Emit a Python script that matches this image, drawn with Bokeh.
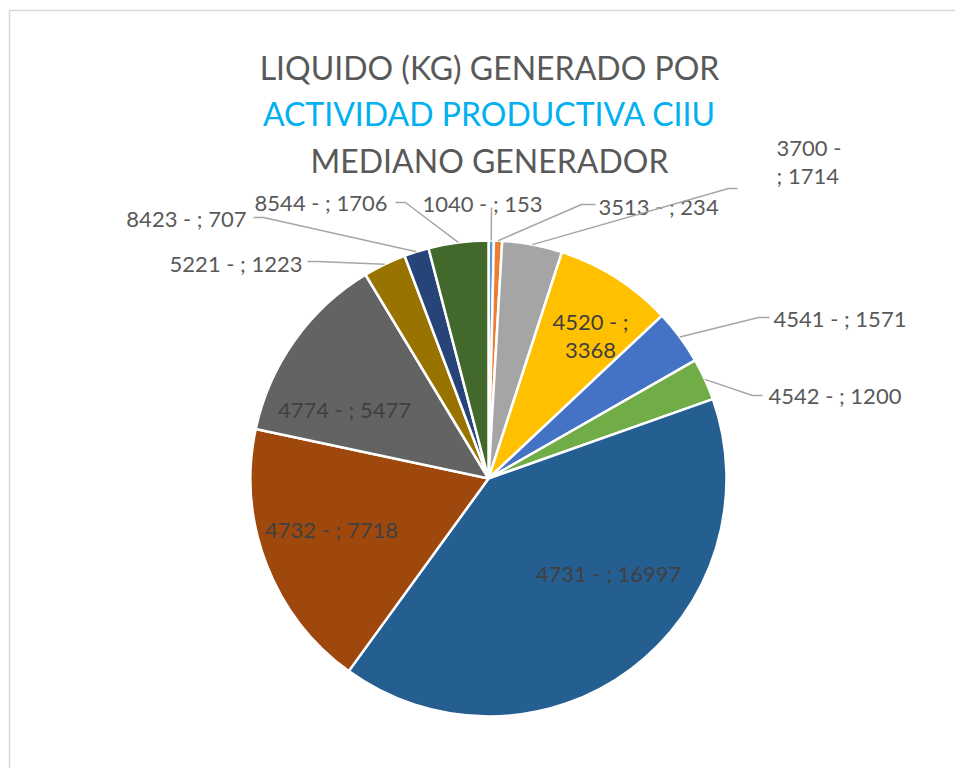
import math
from bokeh.plotting import figure
from bokeh.models import Range1d
from bokeh.core.properties import value
from bokeh.embed import file_html
from bokeh.resources import INLINE

# ---------------- data ----------------
codes = ["1040", "3513", "3700", "4520", "4541", "4542",
         "4731", "4732", "4774", "5221", "8423", "8544"]
kg = [153, 234, 1714, 3368, 1571, 1200, 16997, 7718, 5477, 1223, 707, 1706]
title_lines = ["LIQUIDO (KG) GENERADO POR",
               "ACTIVIDAD PRODUCTIVA CIIU",
               "MEDIANO GENERADOR"]

# ---------------- styles / layout ----------------
colors = ["#5B9BD5", "#ED7D31", "#A5A5A5", "#FFC000", "#4472C4", "#70AD47",
          "#255E91", "#9E480E", "#636363", "#997300", "#264478", "#43682B"]
title_colors = ["#595959", "#00B0F0", "#595959"]
title_baselines = [67, 113, 160]
FONT = "Lato"

W, H = 955, 768
CX, CY, R = 488, 478, 238   # screenshot pixel coords


def X(px):
    return px


def Y(py):
    return H - py


# label layout (pixels): anchor x, baselines, alignment, split style, leader elbow points
layout = {
    "1040": dict(x=482, ys=[203], align="center", path=[(491, 207)]),
    "3513": dict(x=598, ys=[206], align="left", path=[(581, 204), (595, 204)]),
    "3700": dict(x=776, ys=[147, 175], align="left", split="-", path=[(728, 188), (737, 188)]),
    "4520": dict(x=590, ys=[321, 350], align="center", split=";", inside=True),
    "4541": dict(x=773, ys=[318], align="left", path=[(758, 317), (769, 317)]),
    "4542": dict(x=768, ys=[395], align="left", path=[(752, 395), (762, 395)]),
    "4731": dict(x=608, ys=[573], align="center", inside=True),
    "4732": dict(x=331, ys=[529], align="center", inside=True),
    "4774": dict(x=344, ys=[409], align="center", inside=True),
    "5221": dict(x=302, ys=[263], align="right", path=[(317, 261), (307, 261)]),
    "8423": dict(x=246, ys=[218], align="right", path=[(263, 217), (253, 217)]),
    "8544": dict(x=387, ys=[202], align="right", path=[(405, 202), (395, 202)]),
}

p = figure(width=W, height=H, output_backend="svg", toolbar_location=None,
           x_range=Range1d(0, W), y_range=Range1d(0, H),
           x_axis_type=None, y_axis_type=None, min_border=0)
p.outline_line_color = None
p.background_fill_color = "white"
p.border_fill_color = "white"

# chart area border (extends beyond right/bottom edge like the reference)
p.line([X(9), X(9), X(990)], [Y(800), Y(10), Y(10)], line_color="#D9D9D9", line_width=1.5)

# ---------------- pie ----------------
total = float(sum(kg))
starts, ends, mids = [], [], []
acc = 0.0
for v in kg:
    t0 = acc / total * 2 * math.pi
    acc += v
    t1 = acc / total * 2 * math.pi
    # clockwise from 12 o'clock -> bokeh anticlockwise from +x
    starts.append(math.pi / 2 - t1)
    ends.append(math.pi / 2 - t0)
    mids.append((t0 + t1) / 2)

p.wedge(x=[X(CX)] * len(kg), y=[Y(CY)] * len(kg), radius=R,
        start_angle=starts, end_angle=ends, direction="anticlock",
        fill_color=colors, line_color="white", line_width=2.5)

# ---------------- leader lines & labels ----------------
for code, v, th in zip(codes, kg, mids):
    lay = layout[code]
    inside = lay.get("inside", False)
    split = lay.get("split")
    if split == "-":
        lines = [f"{code} -", f"; {v}"]
    elif split == ";":
        lines = [f"{code} - ;", f"{v}"]
    else:
        lines = [f"{code} - ; {v}"]

    if not inside and "path" in lay:
        sx = CX + R * math.sin(th)
        sy = CY - R * math.cos(th)
        pts = [(sx, sy)] + lay["path"]
        p.line([X(a) for a, _ in pts], [Y(b) for _, b in pts],
               line_color="#A6A6A6", line_width=1.5)

    col = "#404040" if inside else "#595959"
    for txt, by in zip(lines, lay["ys"]):
        p.text(x=[X(lay["x"])], y=[Y(by)], text=[txt],
               text_font=value(FONT), text_font_size="22px",
               text_color=col, text_align=lay["align"],
               text_baseline="alphabetic")

# ---------------- title ----------------
for t, c, by in zip(title_lines, title_colors, title_baselines):
    p.text(x=[X(489)], y=[Y(by)], text=[t], text_font=value(FONT),
           text_font_size="32px", text_color=c, text_align="center",
           text_baseline="alphabetic")

open("out.html", "w").write(file_html(p, INLINE))
